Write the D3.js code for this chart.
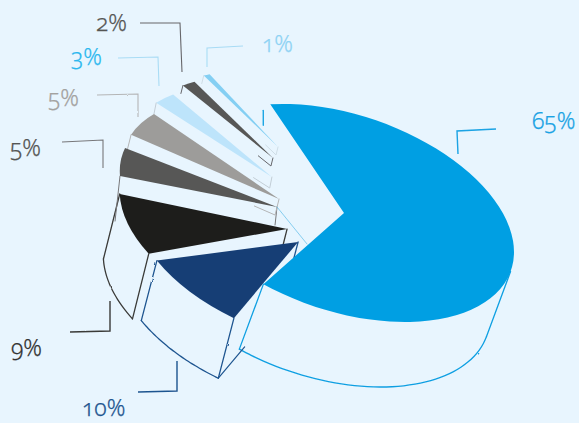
<!DOCTYPE html>
<html>
<head>
<meta charset="utf-8">
<script src="https://cdn.jsdelivr.net/npm/d3@7"></script>
<style>
  html, body { margin: 0; padding: 0; background: #e8f5fe; }
  svg { display: block; }
  text { font-family: "Noto Sans", "Open Sans", sans-serif; font-variant-numeric: oldstyle-nums; font-feature-settings: "onum" 1; font-weight: 300; stroke-width: 0.25; }
</style>
</head>
<body>
<svg id="chart" width="579" height="423"></svg>
<script>
// Share of each segment, clockwise from the large slice
const values = [65, 10, 9, 5, 5, 3, 2, 1];
const labels = ["65%", "10%", "9%", "5%", "5%", "3%", "2%", "1%"];
const fillColors = ["#009fe3", "#163e75", "#1d1d1b", "#575756", "#9d9c9a", "#bde4fb", "#575756", "#84cff3"];
const textColors = ["#1ba3e4", "#1f5590", "#333332", "#555554", "#a3a2a0", "#2cb8ef", "#555554", "#8fd3f4"];
const edgeColors = ["#0f9fe2", "#1f5590", "#3a3a38", "#77777a", "#b4b5b6", "#c3ced6", "#66666a", "#cfdde6"];

// Exploded-pie layout, in units of the pie radius
const explodeU = [0, -0.27, -0.335, -0.394, -0.382, -0.424, -0.418, -0.388];
const explodeV = [0, 0.388, 0.286, 0.092, 0.009, -0.191, -0.38, -0.5];
const radiusScale = [1, 0.97, 0.985, 0.925, 0.92, 0.826, 0.735, 0.69];
const angleNudge = [1, -4.4, -7.6, -8.8, -4.8, -7.2, -8.6, -9];
const depth = [65, 60, 65, 45, 16, 11, 8, 8];
const lean = [-0.37, -0.26, -0.25, -0.11, -0.25, -0.2, -0.25, -0.25];
const apexStub = [0.25, 0.33, 0.23, 0.4, 1, 0.9, 1, 1];

// Label anchors and leader polylines
const labelX = [532, 82, 11, 10, 48, 71, 96, 262];
const labelY = [129, 416, 356, 156, 106, 65, 31, 52];
const leaders = [
  [[496, 129], [457, 131], [458, 154]],
  [[138, 392], [177, 391], [177, 361]],
  [[70, 332], [110, 331], [110, 301]],
  [[62, 142], [103, 140], [103, 168]],
  [[97, 95], [138, 94], [138, 117]],
  [[118, 58], [158, 57], [159, 86]],
  [[140, 23], [180, 23], [182, 72]],
  [[243, 46], [207, 48], [207, 67]]
];

// Tilted-disc projection: unit-circle coordinates to the page
const origin = [344, 213];
const axisU = [170, 39];
const axisV = [0, 101.8];
const startDeg = -116.7;

const rad = d => d * Math.PI / 180;
const project = (u, v, i) => [
  origin[0] + (u + explodeU[i]) * axisU[0] + v * axisV[0],
  origin[1] + (u + explodeU[i]) * axisU[1] + (v + explodeV[i]) * axisV[1]
];
const rimPoint = (angle, i) => {
  const theta = angle - Math.PI / 2 + rad(angleNudge[i]);
  return project(Math.cos(theta) * radiusScale[i], Math.sin(theta) * radiusScale[i], i);
};
const drop = (p, i, k = 1) => [p[0] + lean[i] * depth[i] * k, p[1] + depth[i] * k];

const svg = d3.select("#chart");
svg.append("rect").attr("width", 579).attr("height", 423).attr("fill", "#e8f5fe");

const defs = svg.append("defs");
const rough = defs.append("filter").attr("id", "rough")
  .attr("x", "-5%").attr("y", "-5%").attr("width", "110%").attr("height", "110%");
rough.append("feTurbulence").attr("type", "fractalNoise").attr("baseFrequency", 0.12)
  .attr("numOctaves", 2).attr("seed", 4).attr("result", "noise");
rough.append("feDisplacementMap").attr("in", "SourceGraphic").attr("in2", "noise")
  .attr("scale", 1.6);

const pie = d3.pie().sort(null).value(d => d)
  .startAngle(rad(startDeg + 90)).endAngle(rad(startDeg + 90 + 360));
const arcs = pie(values);

const arcPath = d3.arc().innerRadius(0);
const line = d3.line();
const rimLine = d3.line().curve(d3.curveCatmullRom);
const sweep = d3.scaleLinear().domain([0, 24]);

const sides = svg.append("g").attr("fill", "none").attr("filter", "url(#rough)")
  .attr("stroke-linecap", "round").attr("stroke-linejoin", "round");

// The sidewall of the large slice only shows from the point where the rim's
// tangent runs parallel to the extrusion direction
const wallStart = (d, i) => {
  if (i !== 0) return d.startAngle;
  const k = -lean[0];
  const theta = Math.atan((axisV[1] * k) / (axisU[0] + axisU[1] * k));
  return theta + Math.PI / 2 - rad(angleNudge[0]);
};

arcs.forEach((d, i) => {
  const color = edgeColors[i];
  const a0 = rimPoint(d.startAngle, i);
  const a1 = rimPoint(d.endAngle, i);
  const apex = project(0, 0, i);
  const width = i < 3 ? 1.3 : 1;

  if (depth[i] >= 45) {
    const from = wallStart(d, i);
    sweep.range([from, d.endAngle]);
    const rim = d3.range(25).map(k => drop(rimPoint(sweep(k), i), i));
    if (i !== 3) {
      sides.append("path").attr("d", rimLine(rim)).attr("stroke", color).attr("stroke-width", width);
    }
    sides.append("path").attr("d", line([rimPoint(from, i), drop(rimPoint(from, i), i)]))
      .attr("stroke", color).attr("stroke-width", width);
    if (i !== 3) {
      sides.append("path").attr("d", line([a1, drop(a1, i)]))
        .attr("stroke", color).attr("stroke-width", width);
    }
  } else {
    sides.append("path").attr("d", line([a0, drop(a0, i)]))
      .attr("stroke", color).attr("stroke-width", width);
    // short return along the underside, back from the hidden inner corner
    const tip = drop(apex, i);
    sides.append("path")
      .attr("d", line([[apex[0], apex[1]], tip, [tip[0] + (a0[0] - apex[0]) * 0.14, tip[1] + (a0[1] - apex[1]) * 0.14]]))
      .attr("stroke", color).attr("stroke-width", width);
  }
  if (i > 0 && i < 4) {
    sides.append("path")
      .attr("d", line([apex, drop(apex, i, apexStub[i])]))
      .attr("stroke", color).attr("stroke-width", width);
  }
});

// Lower edge of the 10% slice heading back towards its centre
{
  const i = 1, d = arcs[i];
  const near = rimPoint(d.startAngle, i);
  const apex = project(0, 0, i);
  const base = drop(near, i);
  sides.append("path")
    .attr("d", line([base, [base[0] + (apex[0] - near[0]) * 0.41, base[1] + (apex[1] - near[1]) * 0.41]]))
    .attr("stroke", edgeColors[i]).attr("stroke-width", 1.2);
}
// Back stub of the large slice, and the thin seam under the small slices
{
  const corner = rimPoint(arcs[0].startAngle, 0);
  sides.append("path")
    .attr("d", line([[corner[0] - 7, corner[1] + 6], [corner[0] - 7, corner[1] + 21]]))
    .attr("stroke", edgeColors[0]).attr("stroke-width", 1.3);
  const seam = project(0, 0, 3);
  sides.append("path")
    .attr("d", line([seam, [seam[0] + 30, seam[1] + 37]]))
    .attr("stroke", "#5bbce8").attr("stroke-width", 0.7);
}

// Slice tops: unit arcs carried through the tilt matrix
const tops = svg.append("g");
arcs.forEach((d, i) => {
  const offset = project(0, 0, i);
  const nudge = rad(angleNudge[i]);
  tops.append("path")
    .attr("d", arcPath.outerRadius(100 * radiusScale[i])({
      startAngle: d.startAngle + nudge,
      endAngle: d.endAngle + nudge
    }))
    .attr("transform", `matrix(${axisU[0] / 100} ${axisU[1] / 100} ${axisV[0] / 100} ${axisV[1] / 100} ${offset[0]} ${offset[1]})`)
    .attr("fill", fillColors[i]);
});

// Leaders
const guideLayer = svg.append("g").attr("fill", "none").attr("filter", "url(#rough)");
leaders.forEach((pts, i) => {
  guideLayer.append("path").attr("d", line(pts))
    .attr("stroke", i === 0 ? "#1ba3e4" : i === 7 || i === 5 ? "#a9dcf5" : edgeColors[i])
    .attr("stroke-width", i < 3 ? 1.4 : 1.1);
});

// Percentage labels
svg.append("g").selectAll("text").data(labels).join("text")
  .attr("x", (d, i) => labelX[i])
  .attr("y", (d, i) => labelY[i])
  .attr("font-size", 23)
  .attr("fill", (d, i) => textColors[i])
  .attr("stroke", (d, i) => textColors[i])
  .text(d => d);
</script>
</body>
</html>
